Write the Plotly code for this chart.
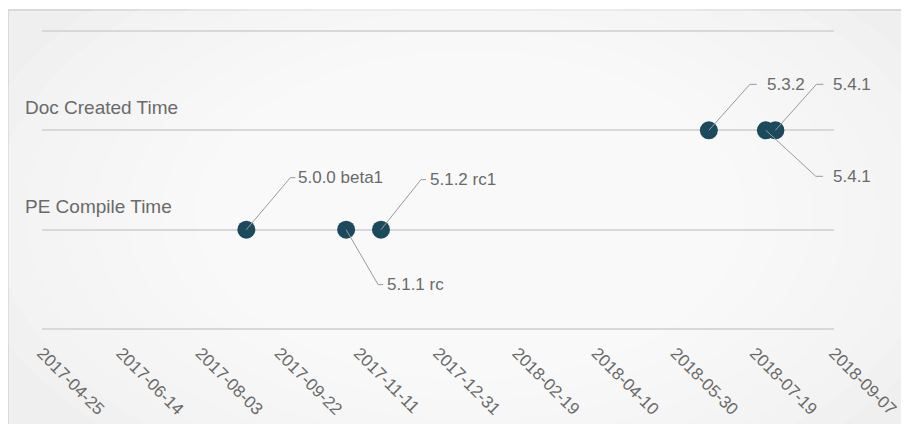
import plotly.graph_objects as go

# ---- data ----
categories = ["PE Compile Time", "Doc Created Time"]
pe_dates = ["2017-09-01", "2017-11-03", "2017-11-25"]
pe_labels = ["5.0.0 beta1", "5.1.1 rc", "5.1.2 rc1"]
doc_dates = ["2018-06-20", "2018-07-26", "2018-08-01"]
doc_labels = ["5.3.2", "5.4.1", "5.4.1"]
tick_dates = ["2017-04-25", "2017-06-14", "2017-08-03", "2017-09-22", "2017-11-11",
              "2017-12-31", "2018-02-19", "2018-04-10", "2018-05-30", "2018-07-19",
              "2018-09-07"]

# ---- styles (pixel offsets of leader lines: diag end dx, dy, horizontal end dx, text dx) ----
pe_offsets = [(44, 52, 49, 50), (32, -55, 37, 39), (40, 50, 45, 47)]
doc_offsets = [(41, 46, 48, 56), (50, -46, 57, 65), (41, 46, 48, 56)]

MARK = "#1b4a5c"
LEAD = "#9a9a9a"
TXT = "#6a6a6a"
FONT = "Liberation Sans, Arial, sans-serif"

ypos = {c: i + 1 for i, c in enumerate(categories)}

# page body has an 8px margin: figure is placed at (8, 8) in the 909x424 window
OFF = 8
W, H = 909 - OFF, 424 - OFF
EXT = 0.03                       # small padding so edge gridlines stay visible
UNIT = 298 / 3                   # pixels per category step
L, PW = 42 - OFF, 792
T = 31 - OFF - EXT * UNIT
PH = (3 + 2 * EXT) * UNIT


def px_to_paper_x(px):
    return (px - OFF - L) / PW


def px_to_paper_y(py):
    return (T + PH - (py - OFF)) / PH


fig = go.Figure()
shapes = []
annotations = []

# background panel with soft radial glow
shapes.append(dict(type="rect", xref="paper", yref="paper", layer="below",
                   x0=px_to_paper_x(8), x1=px_to_paper_x(930),
                   y0=px_to_paper_y(440), y1=px_to_paper_y(10),
                   fillcolor="#efefef", line=dict(color="#d9d9d9", width=2)))
cx, cy = 470, 215
n = 14
for i in range(n):
    f = 1 - i / n
    rx, ry = 470 * f + 40, 280 * f + 25
    shapes.append(dict(type="circle", xref="paper", yref="paper", layer="below",
                       x0=px_to_paper_x(cx - rx), x1=px_to_paper_x(cx + rx),
                       y0=px_to_paper_y(cy + ry), y1=px_to_paper_y(cy - ry),
                       fillcolor="rgba(255,255,255,0.14)", line=dict(width=0)))


def add_series(name, dates, labels, offsets):
    y = ypos[name]
    fig.add_trace(go.Scatter(x=dates, y=[y] * len(dates), mode="markers",
                             marker=dict(size=18, color=MARK), name=name,
                             showlegend=False, hoverinfo="x+text", text=labels))
    for d, lab, (dx, dy, hx, tx) in zip(dates, labels, offsets):
        shapes.append(dict(type="path", xref="x", yref="y", xsizemode="pixel",
                           ysizemode="pixel", xanchor=d, yanchor=y,
                           path=f"M0,0 L{dx},{dy} L{hx},{dy}",
                           line=dict(color=LEAD, width=1)))
        annotations.append(dict(x=d, y=y, xref="x", yref="y", text=lab,
                                showarrow=False, xanchor="left", yanchor="middle",
                                xshift=tx, yshift=dy,
                                font=dict(family=FONT, size=17, color=TXT)))


add_series("PE Compile Time", pe_dates, pe_labels, pe_offsets)
add_series("Doc Created Time", doc_dates, doc_labels, doc_offsets)

for c in categories:
    annotations.append(dict(x=px_to_paper_x(23), xref="paper", y=ypos[c], yref="y",
                            text=c, showarrow=False, xanchor="left", yanchor="middle",
                            yshift=23, font=dict(family=FONT, size=19, color=TXT)))

fig.update_layout(
    width=W, height=H, autosize=False,
    margin=dict(l=L, r=W - L - PW, t=T, b=H - T - PH, pad=0),
    paper_bgcolor="white", plot_bgcolor="rgba(0,0,0,0)",
    shapes=shapes, annotations=annotations,
    xaxis=dict(type="date", range=[tick_dates[0], tick_dates[-1]],
               tickvals=tick_dates, ticktext=tick_dates, tickangle=45,
               showgrid=False, zeroline=False, showline=False, ticks="",
               automargin=False, ticklabelstandoff=7,
               tickfont=dict(family=FONT, size=17, color=TXT)),
    yaxis=dict(range=[-EXT, 3 + EXT], tickvals=[0, 1, 2, 3], showticklabels=False,
               showgrid=True, gridcolor="#d8d8d8", gridwidth=1.5, automargin=False,
               zeroline=False, showline=False, ticks=""),
    font=dict(family=FONT, color=TXT),
)

fig.write_html("out.html")
